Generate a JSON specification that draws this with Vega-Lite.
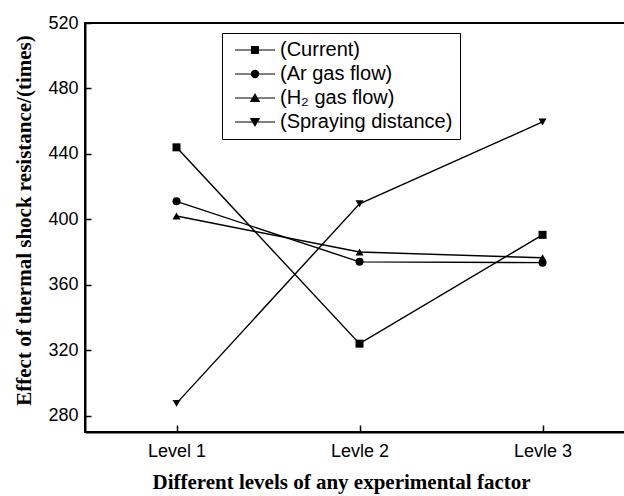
{
  "$schema": "https://vega.github.io/schema/vega-lite/v6.json",
  "width": 541,
  "height": 409,
  "autosize": {"type": "none"},
  "padding": {"left": 85, "top": 23, "right": 0, "bottom": 64},
  "background": "white",
  "config": {
    "view": {"stroke": "black", "strokeWidth": 2},
    "axis": {
      "domainColor": "black", "domainWidth": 2,
      "tickColor": "black", "tickWidth": 1.5,
      "labelColor": "black", "labelFont": "Liberation Sans", "labelFontSize": 18,
      "titleFont": "Liberation Serif", "titleFontWeight": "bold", "titleFontSize": 21, "titleColor": "black",
      "grid": false
    }
  },
  "data": {
    "values": [
      {"series": "(Current)", "level": 1, "value": 444},
      {"series": "(Current)", "level": 2, "value": 324},
      {"series": "(Current)", "level": 3, "value": 390.5},
      {"series": "(Ar gas flow)", "level": 1, "value": 411},
      {"series": "(Ar gas flow)", "level": 2, "value": 374},
      {"series": "(Ar gas flow)", "level": 3, "value": 373.5},
      {"series": "(H₂ gas flow)", "level": 1, "value": 402},
      {"series": "(H₂ gas flow)", "level": 2, "value": 380},
      {"series": "(H₂ gas flow)", "level": 3, "value": 376.5},
      {"series": "(Spraying distance)", "level": 1, "value": 287.5},
      {"series": "(Spraying distance)", "level": 2, "value": 409.5},
      {"series": "(Spraying distance)", "level": 3, "value": 459.5}
    ]
  },
  "encoding": {
    "x": {
      "field": "level", "type": "quantitative",
      "scale": {"domain": [0.5, 3.456], "nice": false, "zero": false},
      "axis": {
        "values": [1, 2, 3],
        "labelExpr": "datum.value == 1 ? 'Level 1' : datum.value == 2 ? 'Levle 2' : 'Levle 3'",
        "tickSize": -7, "labelPadding": 17,
        "title": "Different levels of any experimental factor",
        "titlePadding": 11, "titleX": 256
      }
    },
    "y": {
      "field": "value", "type": "quantitative",
      "scale": {"domain": [270, 520], "nice": false, "zero": false},
      "axis": {
        "values": [280, 320, 360, 400, 440, 480, 520],
        "tickSize": -6, "labelPadding": 13,
        "title": "Effect of thermal shock resistance/(times)",
        "titlePadding": 13, "titleY": 197
      }
    }
  },
  "layer": [
    {
      "mark": {"type": "line", "color": "black", "strokeWidth": 1.4},
      "encoding": {"detail": {"field": "series"}}
    },
    {
      "mark": {"type": "point", "filled": true, "color": "black", "size": 64, "opacity": 1},
      "encoding": {
        "shape": {
          "field": "series", "type": "nominal",
          "scale": {
            "domain": ["(Current)", "(Ar gas flow)", "(H₂ gas flow)", "(Spraying distance)"],
            "range": ["square", "circle", "triangle-up", "triangle-down"]
          },
          "legend": null
        }
      }
    },
    {
      "mark": {"type": "point", "filled": false, "color": "black", "strokeWidth": 1.2, "size": 64, "opacity": 0},
      "encoding": {
        "shape": {
          "field": "series", "type": "nominal",
          "scale": {
            "domain": ["(Current)", "(Ar gas flow)", "(H₂ gas flow)", "(Spraying distance)"],
            "range": [
              "M-1,0H9M3.15,-0.85H4.85V0.85H3.15ZM3.15,-0.6H4.85M3.15,-0.35H4.85M3.15,-0.1H4.85M3.15,0.15H4.85M3.15,0.4H4.85M3.15,0.65H4.85",
              "M-1,0H9M4.9,0A0.9,0.9 0 1,1 3.1,0A0.9,0.9 0 1,1 4.9,0ZM3.13,-0.25H4.87M3.13,0.25H4.87M3.25,-0.5H4.75M3.25,0.5H4.75M3.5,-0.75H4.5M3.5,0.75H4.5",
              "M-1,0H9M4,-0.95L5.05,0.85H2.95ZM3.88,-0.75H4.12M3.74,-0.5H4.26M3.59,-0.25H4.41M3.3,0.25H4.7M3.15,0.5H4.85M3.01,0.75H4.99",
              "M-1,0H9M4,0.95L5.05,-0.85H2.95ZM3.88,0.75H4.12M3.74,0.5H4.26M3.59,0.25H4.41M3.3,-0.25H4.7M3.15,-0.5H4.85M3.01,-0.75H4.99"
            ]
          },
          "legend": {
            "title": null,
            "orient": "none", "legendX": 137, "legendY": 10,
            "strokeColor": "black", "fillColor": "white",
            "padding": 7,
            "symbolSize": 64,
            "symbolOpacity": 1,
            "symbolStrokeColor": "black",
            "symbolStrokeWidth": 1.2,
            "labelFont": "Liberation Sans", "labelFontSize": 20, "labelColor": "black",
            "labelLimit": 400,
            "labelOffset": 31, "rowPadding": 4,
            "encode": {
              "symbols": {
                "fill": {"value": "black"}
              }
            }
          }
        }
      }
    }
  ],
  "resolve": {"scale": {"shape": "independent"}, "legend": {"shape": "independent"}}
}
